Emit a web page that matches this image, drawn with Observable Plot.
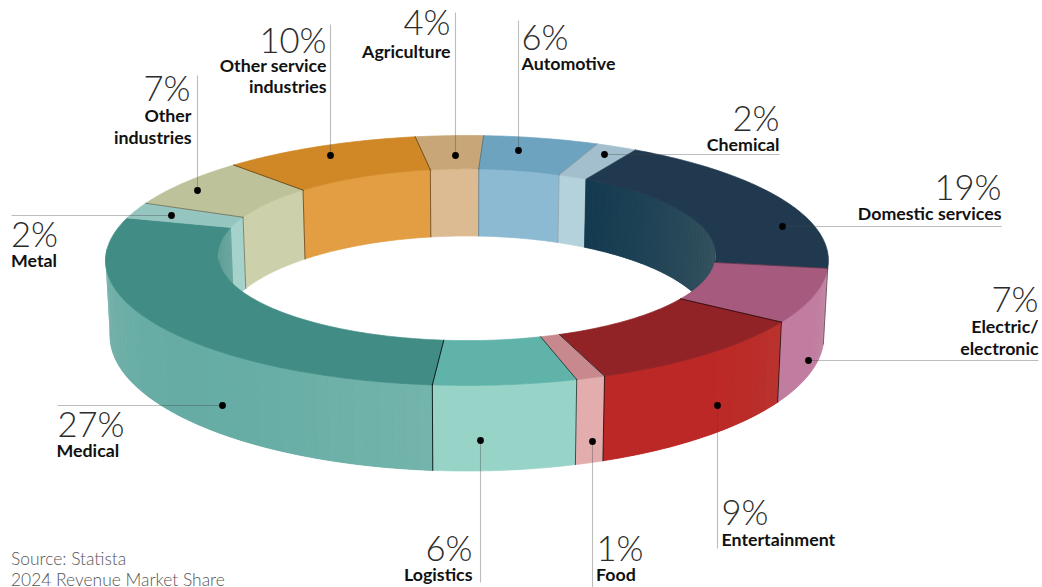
<!DOCTYPE html>
<html>
<head>
<meta charset="utf-8">
<style>
html,body{margin:0;padding:0;background:#fff;overflow:hidden}
svg{display:block}
</style>
<script src="https://cdn.jsdelivr.net/npm/d3@7"></script>
<script src="https://cdn.jsdelivr.net/npm/@observablehq/plot@0.6"></script>
</head>
<body>
<div id="chart"></div>
<script>
// Data: clockwise from the top of the ring
const categories = ["Agriculture","Automotive","Chemical","Domestic services","Electric/electronic","Entertainment","Food","Logistics","Medical","Metal","Other industries","Other service industries"];
const printedShares = [4,6,2,19,7,9,1,6,27,2,7,10];
const drawnShares = [3.3,5.6,2,19,7,9.9,1.2,5.9,27.8,2.1,6.6,9.6];

// Colours per slice: top face, inner wall (left to right), outer wall (left, middle, right)
const topColors = ["#c8a677","#6da3bf","#a3bfcd","#21394f","#a65b7e","#912225","#c7898d","#60b3a8","#418d85","#95c5bf","#bec29a","#d08725"];
const innerLeft = ["#dcbb92","#8cbad2","#b4d2dc","#133a50","#c17da0","#bc2826","#e3adae","#97d4c7","#5e9d95","#a5d3cb","#ccd1ac","#e39d42"];
const innerRight = ["#dcbb92","#8cbad2","#b4d2dc","#3a5560","#c17da0","#bc2826","#e3adae","#97d4c7","#6aa8a0","#a5d3cb","#ccd1ac","#e39d42"];
const outerLeft = ["#dcbb92","#8cbad2","#b4d2dc","#133a50","#c17da0","#bc2826","#e3adae","#97d4c7","#80b5af","#a5d3cb","#ccd1ac","#e39d42"];
const outerMid = ["#dcbb92","#8cbad2","#b4d2dc","#133a50","#c17da0","#bc2826","#e3adae","#97d4c7","#65aca4","#a5d3cb","#ccd1ac","#e39d42"];
const outerRight = ["#dcbb92","#8cbad2","#b4d2dc","#133a50","#c08fa8","#b9342f","#e3adae","#97d4c7","#74b5ac","#a5d3cb","#ccd1ac","#e39d42"];
// darkness of the seam at the clockwise end of each slice
const edgeInk = [.3,.2,0,.4,.7,.8,.7,.9,0,.4,.5,.5];

// Ring projection
const cx = 466.5, cy = 249, sx = 360, sy = 124, k = .088, innerR = .69, drop = 74, bottomX = .988, bottomY = 1.085;
function project(theta, r, d) {
  const t = theta * Math.PI / 180, Y = r * Math.cos(t), w = 1 - k * Y;
  const u = sx * r * Math.sin(t) / w, v = sy * Y / w;
  return {x: cx + u * (1 - (1 - bottomX) * d), y: cy + v * (1 + (bottomY - 1) * d) + drop * d};
}
function arc(a, b, r, d) {
  const n = Math.max(1, Math.ceil(Math.abs(b - a))), out = [];
  for (let i = 0; i <= n; ++i) out.push(project(a + (b - a) * i / n, r, d));
  return out;
}
const closed = pts => pts.concat([pts[0]]);

// Slices as angle spans
let acc = 189;
const slices = categories.map((name, i) => {
  const start = acc; acc -= drawnShares[i] * 3.6;
  return {i, name, value: printedShares[i], start, end: acc};
});

const inner = [], innerShade = [], tops = [], walls = [], wallShade = [], edges = [];
const norm = t => ((t % 360) + 360) % 360;
// A wall face in its middle colour; shaded walls get borderless strips on top of it
function strips(i, lo, hi, r, rows, shade, stops) {
  if (hi <= lo) return;
  const flat = stops.every(c => c === stops[0]);
  const col = d3.interpolateRgbBasis(stops);
  const base = flat ? stops[0] : d3.color(col(.5)).formatHex();
  closed(arc(lo, hi, r, 0).concat(arc(hi, lo, r, 1))).forEach(p => rows.push({...p, id: `b${i}-${r}`, color: base}));
  if (flat) return;
  const n = Math.max(1, Math.ceil((hi - lo) / 2));
  for (let j = 0; j < n; ++j) {
    const a = lo + (hi - lo) * j / n, b = lo + (hi - lo) * (j + 1) / n;
    const c = d3.color(col((j + .5) / n)).formatHex();
    closed(arc(a, b, r, 0).concat(arc(b, a, r, 1))).forEach(p => shade.push({...p, id: `${i}-${j}-${r}`, color: c}));
  }
}
slices.forEach(s => {
  const i = s.i, id = "t" + i, c = topColors[i];
  closed(arc(s.start, s.end, 1, 0).concat(arc(s.end, s.start, innerR, 0))).forEach(p => tops.push({...p, id, color: c}));
  // inner wall: faces the viewer on the far half of the ring
  const shift = s.start < 0 ? 360 : 0;
  strips(i, Math.max(s.end + shift, 90), Math.min(s.start + shift, 270), innerR, inner, innerShade, [innerRight[i], innerLeft[i]]);
  // outer wall: faces the viewer on the near half of the ring
  if (i >= 4 && i <= 8) strips(i, Math.max(s.end, -90), Math.min(s.start, 90), 1, walls, wallShade,
    [outerLeft[i], outerMid[i], outerMid[i], outerRight[i]]);
  // seam at the slice's end
  const ink = edgeInk[i], e = s.end;
  const add = (pts, tag) => pts.forEach(p => edges.push({...p, id: i + tag, ink}));
  add([project(e, innerR, 0), project(e, 1, 0)], "r");
  const n = norm(e);
  if (n > 270 || n < 90) add([project(e, 1, 0), project(e, 1, 1)], "o");
  else add([project(e, innerR, 0), project(e, innerR, 1)], "i");
});

// Annotation layout
const callouts = [
  {name:"Agriculture", px:455, py:155, ex:455, ey:12},
  {name:"Automotive", px:518, py:150, ex:518, ey:20},
  {name:"Chemical", px:604, py:154, ex:779, ey:154},
  {name:"Domestic", px:782, py:226, ex:1001, ey:226},
  {name:"Electric", px:808, py:360, ex:1038, ey:360},
  {name:"Entertainment", px:717, py:405, ex:717, ey:548},
  {name:"Food", px:592, py:441, ex:592, ey:587},
  {name:"Logistics", px:480, py:440, ex:480, ey:582},
  {name:"Medical", px:222, py:405, ex:57, ey:405},
  {name:"Metal", px:171, py:215, ex:11, ey:215},
  {name:"Other industries", px:197, py:190, ex:197, ey:75},
  {name:"Other service", px:330, py:155, ex:330, ey:24}
];
const valueLabels = [
  {t:"4%", x:450, y:34, a:"end"},{t:"6%", x:521, y:49, a:"start"},{t:"2%", x:779, y:130, a:"end"},
  {t:"19%", x:1001, y:199, a:"end"},{t:"7%", x:1038, y:311, a:"end"},{t:"9%", x:721, y:524, a:"start"},
  {t:"1%", x:596, y:560, a:"start"},{t:"6%", x:472, y:560, a:"end"},{t:"27%", x:57, y:436, a:"start"},
  {t:"2%", x:10.5, y:246, a:"start"},{t:"7%", x:190, y:100, a:"end"},{t:"10%", x:326, y:52, a:"end"}
];
const nameLabels = [
  {t:"Agriculture", x:450, y:57, a:"end"},{t:"Automotive", x:521, y:69, a:"start"},{t:"Chemical", x:779, y:150, a:"end"},
  {t:"Domestic services", x:1001, y:219, a:"end"},{t:"Electric/", x:1038, y:332, a:"end"},{t:"electronic", x:1038, y:354, a:"end"},
  {t:"Entertainment", x:721, y:545, a:"start"},{t:"Food", x:595.5, y:580, a:"start"},{t:"Logistics", x:472, y:580, a:"end"},
  {t:"Medical", x:56, y:456, a:"start"},{t:"Metal", x:10.5, y:266, a:"start"},{t:"Other", x:191, y:121, a:"end"},
  {t:"industries", x:191, y:143, a:"end"},{t:"Other service", x:326, y:71, a:"end"},{t:"industries", x:326, y:92, a:"end"}
];
const sourceLines = [{t:"Source: Statista", x:10.5, y:564},{t:"2024 Revenue Market Share", x:10.5, y:585}];

const face = rows => Plot.line(rows, {x:"x", y:"y", z:"id", fill:"color", stroke:"color", strokeWidth:.7, curve:"linear"});
const shade = rows => Plot.line(rows, {x:"x", y:"y", z:"id", fill:"color", stroke:"none", curve:"linear"});
const texts = (rows, o) => ["start","end"].map(a => Plot.text(rows.filter(d => (d.a || "start") === a), {
  x:"x", y:"y", text:"t", textAnchor:a, lineAnchor:"bottom", fontFamily:"Lato, 'Noto Sans', sans-serif", ...o
}));

const chart = Plot.plot({
  width:1042, height:587, margin:0,
  style:{background:"#fff"},
  x:{axis:null, domain:[0,1042], range:[0,1042]},
  y:{axis:null, domain:[0,587], range:[0,587]},
  color:{type:"identity"},
  marks:[
    face(inner),
    shade(innerShade),
    face(walls),
    shade(wallShade),
    face(tops),
    Plot.line(edges, {x:"x", y:"y", z:"id", stroke:"#000", strokeOpacity:"ink", strokeWidth:.9}),
    Plot.link(callouts, {x1:"px", y1:"py", x2:"ex", y2:"ey", stroke:"#444", strokeOpacity:.36, strokeWidth:1.1}),
    Plot.dot(callouts, {x:"px", y:"py", r:3.4, fill:"#000"}),
    ...texts(valueLabels, {fontSize:34.6, fontWeight:300, fill:"#2b2b2b"}),
    ...texts(nameLabels, {fontSize:17.8, fontWeight:700, fill:"#111"}),
    ...texts(sourceLines, {fontSize:17.4, fontWeight:300, fill:"#555"})
  ]
});
document.getElementById("chart").append(chart);
</script>
</body>
</html>
